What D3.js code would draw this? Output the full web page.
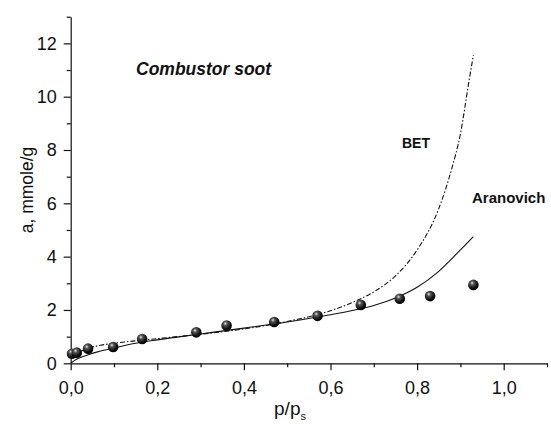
<!DOCTYPE html>
<html>
<head>
<meta charset="utf-8">
<script src="https://cdn.jsdelivr.net/npm/d3@7"></script>
<style>
  html, body { margin: 0; padding: 0; background: #fff; }
  svg { display: block; font-family: "Liberation Sans", Arial, Helvetica, sans-serif; }
</style>
</head>
<body>
<svg id="chart" width="551" height="430"></svg>
<script>
// ---- data ----
const pointX = [0.003, 0.014, 0.04, 0.098, 0.165, 0.29, 0.36, 0.47, 0.57, 0.67, 0.76, 0.83, 0.93];
const pointY = [0.36, 0.40, 0.55, 0.61, 0.91, 1.16, 1.42, 1.55, 1.78, 2.19, 2.42, 2.52, 2.94];

const aranX = [0, 0.01, 0.02, 0.04, 0.06, 0.1, 0.15, 0.2, 0.3, 0.4, 0.5, 0.6, 0.65, 0.7, 0.75, 0.8, 0.85, 0.9, 0.93];
const aranY = [0, 0.12, 0.2, 0.32, 0.42, 0.57, 0.75, 0.88, 1.1, 1.32, 1.55, 1.82, 1.98, 2.17, 2.45, 2.85, 3.45, 4.25, 4.75];

const betX = [0, 0.005, 0.02, 0.04, 0.07, 0.1, 0.15, 0.2, 0.3, 0.4, 0.5, 0.6, 0.65, 0.7, 0.75, 0.8, 0.85, 0.88, 0.9, 0.92, 0.93];
const betY = [0.2, 0.28, 0.42, 0.56, 0.68, 0.75, 0.845, 0.926, 1.09, 1.29, 1.57, 1.97, 2.28, 2.68, 3.28, 4.25, 5.8, 7.3, 8.6, 10.6, 11.56];

const xMajorTicks = [0, 0.2, 0.4, 0.6, 0.8, 1.0];
const xMinorTicks = [0.1, 0.3, 0.5, 0.7, 0.9, 1.1];
const yMajorTicks = [0, 2, 4, 6, 8, 10, 12];
const yMinorTicks = [1, 3, 5, 7, 9, 11, 13];

const xTitle = "p/p";
const xTitleSub = "s";
const yTitle = "a, mmole/g";
const chartTitle = "Combustor soot";
const labelBET = "BET";
const labelAran = "Aranovich";

// ---- drawing ----
const svg = d3.select("#chart");
const x = d3.scaleLinear().domain([0, 1.1]).range([70.7, 547]);
const y = d3.scaleLinear().domain([0, 13]).range([363.3, 16.7]);

const fmt = d => d3.format(".1f")(d).replace(".", ",");

// defs: sphere gradient
const defs = svg.append("defs");
const grad = defs.append("radialGradient").attr("id", "ball")
  .attr("cx", "0.38").attr("cy", "0.32").attr("r", "0.7");
grad.append("stop").attr("offset", "0").attr("stop-color", "#e8e8e8");
grad.append("stop").attr("offset", "0.25").attr("stop-color", "#555");
grad.append("stop").attr("offset", "0.7").attr("stop-color", "#111");
grad.append("stop").attr("offset", "1").attr("stop-color", "#000");

// x axis
const xAxisG = svg.append("g").attr("transform", `translate(0,${y(0)})`);
xAxisG.call(d3.axisBottom(x).tickValues(xMajorTicks).tickSize(7).tickSizeOuter(0).tickPadding(11).tickFormat(fmt));
xAxisG.append("g").call(d3.axisBottom(x).tickValues(xMinorTicks).tickSize(4).tickSizeOuter(0).tickFormat(""))
  .select(".domain").remove();

// y axis
const yAxisG = svg.append("g").attr("transform", `translate(${x(0)},0)`);
yAxisG.call(d3.axisLeft(y).tickValues(yMajorTicks).tickSize(7).tickSizeOuter(0).tickPadding(7).tickFormat(d3.format("d")));
yAxisG.append("g").call(d3.axisLeft(y).tickValues(yMinorTicks).tickSize(4).tickSizeOuter(0).tickFormat(""))
  .select(".domain").remove();

svg.selectAll(".tick text").attr("font-size", 18).attr("fill", "#111")
  .attr("font-family", "'Liberation Sans', Arial, sans-serif");
svg.selectAll(".domain, .tick line").attr("stroke", "#111").attr("stroke-width", 1.2);

// axis titles
const xt = svg.append("text").attr("x", 290).attr("y", 415)
  .attr("text-anchor", "middle").attr("font-size", 19).attr("fill", "#111");
xt.append("tspan").text(xTitle);
xt.append("tspan").attr("font-size", 11).attr("dy", 5).text(xTitleSub);

svg.append("text").attr("transform", `translate(33,${y(6.5)}) rotate(-90)`)
  .attr("text-anchor", "middle").attr("font-size", 17.5).attr("fill", "#111").text(yTitle);

// curves
const line = d3.line().x(d => x(d[0])).y(d => y(d[1])).curve(d3.curveMonotoneX);
svg.append("path").datum(betX.map((v, i) => [v, betY[i]]))
  .attr("d", line).attr("fill", "none").attr("stroke", "#111").attr("stroke-width", 1.1)
  .attr("stroke-dasharray", "5,2,1.5,2");
svg.append("path").datum(aranX.map((v, i) => [v, aranY[i]]))
  .attr("d", line).attr("fill", "none").attr("stroke", "#111").attr("stroke-width", 1.1);

// points
svg.append("g").selectAll("circle").data(pointX.map((v, i) => [v, pointY[i]])).join("circle")
  .attr("cx", d => x(d[0])).attr("cy", d => y(d[1])).attr("r", 5.3)
  .attr("fill", "url(#ball)");

// labels
svg.append("text").attr("x", 136).attr("y", 75).attr("font-size", 17.5)
  .attr("font-weight", "bold").attr("font-style", "italic").attr("fill", "#111").text(chartTitle);
svg.append("text").attr("x", 402).attr("y", 148).attr("font-size", 14)
  .attr("font-weight", "bold").attr("fill", "#111").text(labelBET);
svg.append("text").attr("x", 472).attr("y", 203).attr("font-size", 15)
  .attr("font-weight", "bold").attr("fill", "#111").text(labelAran);
</script>
</body>
</html>
